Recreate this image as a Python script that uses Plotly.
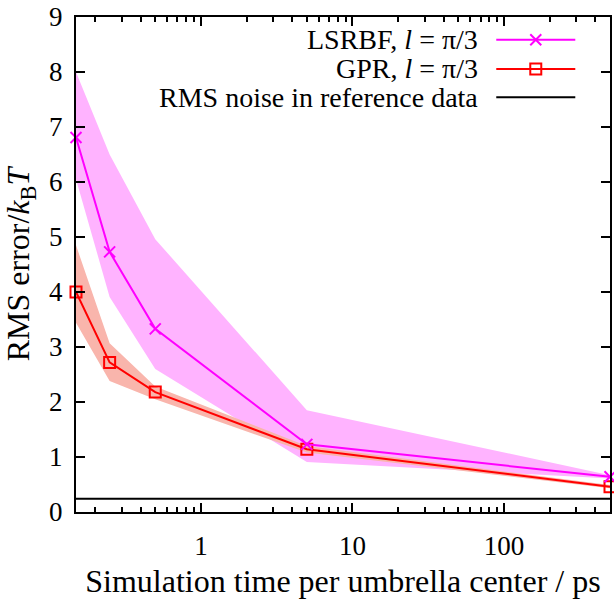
import numpy as np
import plotly.graph_objects as go

# Simulation time per umbrella center (ps)
sim_time = [0.15, 0.25, 0.5, 5, 500]

# LSRBF, l = pi/3: mean RMS error and spread
lsrbf_mean = [6.81, 4.73, 3.33, 1.23, 0.64]
lsrbf_upper = [8.0, 6.5, 4.96, 1.85, 0.67]
lsrbf_lower = [6.05, 3.91, 2.6, 0.91, 0.61]

# GPR, l = pi/3: mean RMS error and spread
gpr_mean = [4.0, 2.72, 2.18, 1.14, 0.46]
gpr_upper = [4.85, 3.07, 2.28, 1.2, 0.49]
gpr_lower = [3.44, 2.38, 2.05, 1.08, 0.43]

# RMS noise level of the reference data
noise_level = 0.24

legend_labels = ["LSRBF, <i>l</i> = π/3", "GPR, <i>l</i> = π/3", "RMS noise in reference data"]

FONT = "Liberation Serif, Times New Roman, DejaVu Serif, serif"
MAGENTA = "#ff00ff"
RED = "#ff0000"
MAGENTA_FILL = "#ffb3ff"
RED_FILL = "#f9b5ac"

fig = go.Figure()

# shaded spreads
fig.add_trace(go.Scatter(x=sim_time, y=lsrbf_upper, mode="lines", line=dict(width=0),
                         hoverinfo="skip", showlegend=False))
fig.add_trace(go.Scatter(x=sim_time, y=lsrbf_lower, mode="lines", line=dict(width=0),
                         fill="tonexty", fillcolor=MAGENTA_FILL, hoverinfo="skip", showlegend=False))
fig.add_trace(go.Scatter(x=sim_time, y=gpr_upper, mode="lines", line=dict(width=0),
                         hoverinfo="skip", showlegend=False))
fig.add_trace(go.Scatter(x=sim_time, y=gpr_lower, mode="lines", line=dict(width=0),
                         fill="tonexty", fillcolor=RED_FILL, hoverinfo="skip", showlegend=False))

# noise level
fig.add_trace(go.Scatter(x=[sim_time[0], sim_time[-1]], y=[noise_level, noise_level], mode="lines",
                         line=dict(color="black", width=2), showlegend=False))

# mean curves
fig.add_trace(go.Scatter(x=sim_time, y=gpr_mean, mode="lines+markers",
                         line=dict(color=RED, width=2),
                         marker=dict(symbol="square-open", size=11, color=RED, line=dict(width=2)),
                         showlegend=False, cliponaxis=False))
fig.add_trace(go.Scatter(x=sim_time, y=lsrbf_mean, mode="lines+markers",
                         line=dict(color=MAGENTA, width=2),
                         marker=dict(symbol="x-thin", size=11, color=MAGENTA, line=dict(width=2, color=MAGENTA)),
                         showlegend=False, cliponaxis=False))

# key, drawn on an overlay axis spanning the plot area
key_x0, key_x1 = 0.787, 0.935
key_rows = [0.954, 0.895, 0.838]
key_styles = [
    (MAGENTA, "x-thin"),
    (RED, "square-open"),
    ("black", None),
]
for row_y, (col, sym), label in zip(key_rows, key_styles, legend_labels):
    fig.add_trace(go.Scatter(x=[key_x0, key_x1], y=[row_y, row_y], mode="lines",
                             line=dict(color=col, width=2), xaxis="x2", yaxis="y2",
                             showlegend=False, hoverinfo="skip"))
    if sym:
        fig.add_trace(go.Scatter(x=[(key_x0 + key_x1) / 2], y=[row_y], mode="markers",
                                 marker=dict(symbol=sym, size=11, color=col, line=dict(width=2, color=col)),
                                 xaxis="x2", yaxis="y2", showlegend=False, hoverinfo="skip"))
    fig.add_annotation(x=0.757, y=row_y, xref="x2", yref="y2", text=label, showarrow=False,
                       xanchor="right", yanchor="middle", font=dict(family=FONT, size=28, color="black"))

minor_vals = [v * 10 ** e for e in range(-1, 3) for v in range(2, 10)]
minor_vals = [v for v in minor_vals if 0.15 <= v <= 500]

fig.update_layout(
    width=614, height=599,
    margin=dict(l=76, r=2, t=17, b=87),
    paper_bgcolor="white", plot_bgcolor="white",
    font=dict(family=FONT, size=27, color="black"),
    showlegend=False,
    xaxis=dict(
        type="log", range=[np.log10(0.15), np.log10(500)],
        tickmode="array", tickvals=[1, 10, 100], ticktext=["1", "10", "100"],
        ticks="inside", ticklen=9, tickwidth=1.5, tickcolor="black",
        minor=dict(tickmode="array", tickvals=minor_vals, ticks="inside", ticklen=5,
                   tickwidth=1.5, tickcolor="black", showgrid=False),
        showline=True, linecolor="black", linewidth=2, mirror="ticks",
        showgrid=False, zeroline=False,
        title=dict(text="Simulation time per umbrella center / ps", standoff=12),
        ticklabelstandoff=9,
    ),
    yaxis=dict(
        range=[0, 9], tickmode="linear", tick0=0, dtick=1,
        ticks="inside", ticklen=9, tickwidth=1.5, tickcolor="black",
        showline=True, linecolor="black", linewidth=2, mirror="ticks",
        showgrid=False, zeroline=False,
        title=dict(text="RMS error/<i>k</i><sub>B</sub><i>T</i>", standoff=10),
        ticklabelstandoff=6,
    ),
    xaxis2=dict(overlaying="x", range=[0, 1], visible=False, fixedrange=True),
    yaxis2=dict(overlaying="y", range=[0, 1], visible=False, fixedrange=True),
)

fig.write_html("out.html")
